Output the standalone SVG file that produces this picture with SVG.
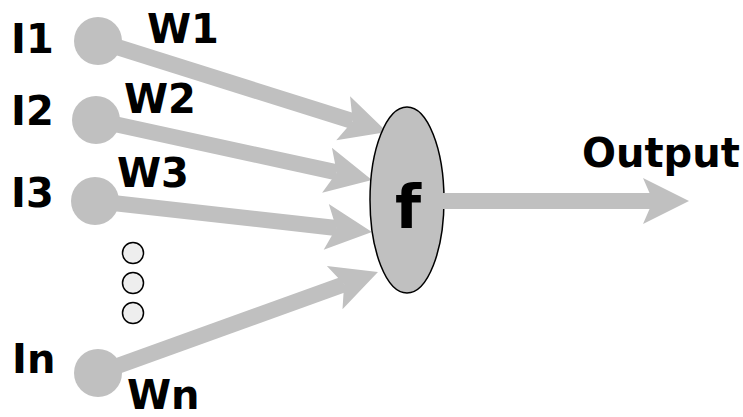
<svg xmlns="http://www.w3.org/2000/svg" width="743" height="417" viewBox="0 0 743 417">
<style>
.lbl{font-family:Verdana,"DejaVu Sans",sans-serif;font-weight:bold;font-size:40px;fill:#000}
.in{fill:#c0c0c0}
.dot{fill:#eeeeee;stroke:#000;stroke-width:1.5}
.wire{stroke:#c0c0c0;stroke-width:16;fill:none}
</style>
<defs>
<marker id="ah" markerUnits="userSpaceOnUse" markerWidth="50" markerHeight="50" viewBox="-2 -25 50 50" refX="10" refY="0" orient="auto" overflow="visible">
<path d="M0,-23 L46,0 L0,23 L10,0 Z" fill="#c0c0c0"/>
</marker>
</defs>
<rect width="743" height="417" fill="#fff"/>
<g id="connectors">
<line class="wire" x1="98" y1="41" x2="352.7" y2="121.2" marker-end="url(#ah)"/>
<line class="wire" x1="96" y1="120" x2="336.8" y2="172.4" marker-end="url(#ah)"/>
<line class="wire" x1="95" y1="201" x2="336.2" y2="228" marker-end="url(#ah)"/>
<line class="wire" x1="98" y1="373" x2="344.1" y2="284.2" marker-end="url(#ah)"/>
</g>
<g id="input1"><circle class="in" cx="98" cy="41" r="24"/><text class="lbl" x="11" y="53">I1</text></g>
<g id="input2"><circle class="in" cx="96" cy="120" r="24"/><text class="lbl" x="11" y="125">I2</text></g>
<g id="input3"><circle class="in" cx="95" cy="201" r="24"/><text class="lbl" x="11" y="207">I3</text></g>
<g id="inputn"><circle class="in" cx="98" cy="373" r="24"/><text class="lbl" x="12" y="373">In</text></g>
<g id="weights">
<text class="lbl" x="147" y="43">W1</text>
<text class="lbl" x="124" y="113">W2</text>
<text class="lbl" x="117" y="187">W3</text>
<text class="lbl" x="127" y="409">Wn</text>
</g>
<g id="dots">
<circle class="dot" cx="133" cy="253" r="10.5"/>
<circle class="dot" cx="133" cy="283" r="10.5"/>
<circle class="dot" cx="133" cy="313" r="10.5"/>
</g>
<g id="neuron">
<ellipse cx="407" cy="200" rx="37" ry="93" fill="#c0c0c0" stroke="#000" stroke-width="1.5"/>
<text class="lbl" x="408" y="228" text-anchor="middle" style="font-size:60px">f</text>
</g>
<g id="output-connector">
<line class="wire" x1="441" y1="201" x2="653" y2="201" marker-end="url(#ah)"/>
</g>
<g id="output"><text class="lbl" x="582" y="167">Output</text></g>
</svg>
